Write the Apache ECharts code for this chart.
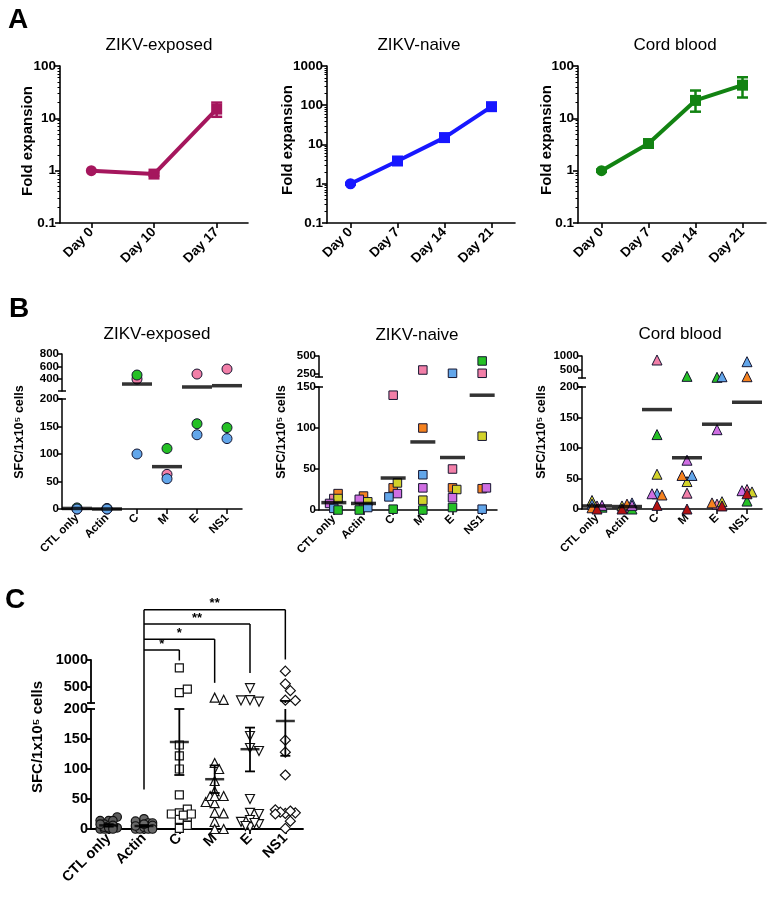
<!DOCTYPE html>
<html><head><meta charset="utf-8">
<script src="https://cdn.jsdelivr.net/npm/echarts@6/dist/echarts.min.js"></script>
<style>html,body{margin:0;padding:0;background:#fff}#c{width:775px;height:900px}</style>
</head><body><div id="c"></div>
<script>
// ================= DATA =================
// Panel A: fold expansion (log scale)
const daysExposed = ['Day 0', 'Day 10', 'Day 17'];
const daysNaive = ['Day 0', 'Day 7', 'Day 14', 'Day 21'];
const daysCord = ['Day 0', 'Day 7', 'Day 14', 'Day 21'];
const foldExposed = [1, 0.86, 15];
const foldExposedLo = [1, 0.8, 10.7];
const foldExposedHi = [1, 0.92, 20];
const foldNaive = [1, 3.8, 15, 92];
const foldNaiveLo = [0.95, 3.4, 13.5, 85];
const foldNaiveHi = [1.05, 4.2, 16.5, 99];
const foldCord = [1, 3.3, 22, 43];
const foldCordLo = [0.95, 2.9, 13.4, 25];
const foldCordHi = [1.05, 3.8, 34, 61];

// Panel B: SFC per 1x10^5 cells, per donor
const antigens = ['CTL only', 'Actin', 'C', 'M', 'E', 'NS1'];
const exposedPink = [0, 0, 394, 63, 475, 556];
const exposedGreen = [2, 1, 459, 110, 155, 148];
const exposedBlue = [0, 0, 100, 55, 135, 128];
const exposedMean = [1, 0, 313, 77, 265, 286];

const naivePink = [14, 5, 140, 300, 50, 253];
const naiveOrange = [20, 17, 27, 100, 27, 26];
const naiveYellow = [14, 10, 33, 12, 25, 90];
const naiveViolet = [8, 13, 20, 27, 15, 27];
const naiveBlue = [2, 3, 16, 43, 253, 1];
const naiveGreen = [0, 0, 1, 0, 3, 429];
const naiveMean = [9, 8, 39, 83, 64, 140];

const cordPink = [5, 3, 855, 26, 8, 32];
const cordGreen = [3, 0, 122, 260, 225, 13];
const cordYellow = [14, 5, 57, 45, 12, 28];
const cordBlue = [8, 10, 25, 55, 247, 793];
const cordOrange = [2, 8, 23, 55, 10, 247];
const cordViolet = [6, 6, 25, 80, 130, 30];
const cordRed = [0, 0, 6, 0, 5, 25];
const cordMean = [5, 4, 163, 84, 139, 175];

// Panel C: pooled mean and SEM
const pooledMean = [6, 5, 145, 83, 133, 180];
const pooledSemLo = [4, 3.5, 90, 60, 96, 122];
const pooledSemHi = [8, 6.5, 200, 106, 169, 238];

// tick labels
const logTicks100 = [0.1, 1, 10, 100];
const logTicks1000 = [0.1, 1, 10, 100, 1000];
const upperTicksExposed = [400, 600, 800];
const upperTicksNaive = [250, 500];
const upperTicksCord = [500, 1000];
const upperTicksPooled = [500, 1000];

// significance brackets (Actin vs ...)
const sigTargets = ['C', 'M', 'E', 'NS1'];
const sigLabels = ['*', '*', '**', '**'];
const sigLevel = [1187, 1388, 1669, 1937];
const sigLegEnd = [990, 575, 757, 1010];
const sigStemEnd = 66;

// ================= STYLE / LAYOUT =================
const FONT = '"Liberation Sans", Arial, Helvetica, sans-serif';
const BLACK = '#000';
const COL = {
  pink: '#f27fa8', green: '#25c025', blue: '#62a6ea', orange: '#f5821f',
  yellow: '#d2d22a', violet: '#cf6ee2', red: '#b31212', edge: '#151530'
};

const chart = echarts.init(document.getElementById('c'), null, {renderer: 'canvas'});
const grids = [], xAxes = [], yAxes = [], series = [], meta = [];

function addGrid(left, topPx, width, height, cats, showX, fs, lw) {
  const gi = grids.length;
  grids.push({left, top: topPx, width, height, containLabel: false, outerBoundsMode: 'none'});
  xAxes.push({
    type: 'category', gridIndex: gi, data: cats, boundaryGap: true, show: showX,
    axisLine: {show: true, onZero: false, lineStyle: {color: BLACK, width: lw}},
    axisTick: {show: true, alignWithLabel: true, length: 5, lineStyle: {color: BLACK, width: lw}},
    axisLabel: {show: true, rotate: 45, margin: 7, interval: 0, hideOverlap: false, color: BLACK, fontFamily: FONT, fontWeight: 'bold', fontSize: fs},
    splitLine: {show: false}
  });
  return gi;
}

function errRender(capW, lw, color, ymin, ymax) {
  return function (params, api) {
    const x = api.value(0);
    const lo = api.value(1), hi = api.value(2);
    const children = [];
    const style = {stroke: color, lineWidth: lw};
    const cl = Math.max(lo, ymin), ch = Math.min(hi, ymax);
    if (ch <= cl) return {type: 'group', children: []};
    const p1 = api.coord([x, cl]), p2 = api.coord([x, ch]);
    children.push({type: 'line', shape: {x1: p1[0], y1: p1[1], x2: p2[0], y2: p2[1]}, style});
    if (lo >= ymin) children.push({type: 'line', shape: {x1: p1[0] - capW / 2, y1: p1[1], x2: p1[0] + capW / 2, y2: p1[1]}, style});
    if (hi <= ymax) children.push({type: 'line', shape: {x1: p2[0] - capW / 2, y1: p2[1], x2: p2[0] + capW / 2, y2: p2[1]}, style});
    return {type: 'group', children};
  };
}
const numFmt = v => String(+(+v).toPrecision(4));

// ---------- Panel A ----------
function panelA(cfg) {
  const gi = addGrid(cfg.left, 66, 188, 157, cfg.cats, true, 13.5, 1.6);
  const yi = yAxes.length;
  yAxes.push({
    type: 'log', logBase: 10, gridIndex: gi, position: 'left', min: 0.1, max: cfg.max,
    axisLine: {show: true, lineStyle: {color: BLACK, width: 1.6}},
    axisTick: {show: true, length: 5, customValues: cfg.ticks, lineStyle: {color: BLACK, width: 1.6}},
    axisLabel: {show: true, customValues: cfg.ticks, showMinLabel: true, showMaxLabel: true, margin: 4, color: BLACK, fontFamily: FONT, fontWeight: 'bold', fontSize: 13.5,
      formatter: numFmt},
    splitLine: {show: false}
  });
  const minor = [];
  for (let d = 0.1; d < cfg.max * 0.99; d *= 10) for (let k = 2; k <= 9; k++) minor.push(+(d * k).toPrecision(4));
  yAxes.push({
    type: 'log', logBase: 10, gridIndex: gi, position: 'left', min: 0.1, max: cfg.max,
    axisLine: {show: false}, axisLabel: {show: false}, splitLine: {show: false},
    axisTick: {show: true, length: 2.5, customValues: minor, lineStyle: {color: BLACK, width: 1}}
  });
  series.push({
    type: 'custom', xAxisIndex: gi, yAxisIndex: yi, z: 2, animation: false,
    renderItem: errRender(11, 2.5, cfg.color, 0.1, cfg.max),
    encode: {x: 0, y: [1, 2]},
    data: cfg.vals.map((v, i) => [i, cfg.lo[i], cfg.hi[i]])
  });
  series.push({
    type: 'line', xAxisIndex: gi, yAxisIndex: yi, z: 3, animation: false,
    data: cfg.vals.map((v, i) => ({value: v, symbol: i === 0 ? 'circle' : 'rect'})),
    symbolSize: 11, lineStyle: {width: 4, color: cfg.color}, itemStyle: {color: cfg.color}
  });
}

panelA({left: 60, cats: daysExposed, max: 100, ticks: logTicks100, vals: foldExposed, lo: foldExposedLo, hi: foldExposedHi, color: '#a5165d'});
panelA({left: 327, cats: daysNaive, max: 1000, ticks: logTicks1000, vals: foldNaive, lo: foldNaiveLo, hi: foldNaiveHi, color: '#1717ff'});
panelA({left: 578, cats: daysCord, max: 100, ticks: logTicks100, vals: foldCord, lo: foldCordLo, hi: foldCordHi, color: '#128312'});

// ---------- Broken-axis dot plots (B and C) ----------
function panelDots(cfg) {
  const gLow = addGrid(cfg.left, cfg.lowTop, cfg.width, cfg.lowH, antigens, true, cfg.fs, cfg.lw);
  const yLow = yAxes.length;
  const lab = {color: BLACK, fontFamily: FONT, fontWeight: 'bold', fontSize: cfg.fs, margin: 3, formatter: numFmt,
    showMinLabel: true, showMaxLabel: true, hideOverlap: false};
  yAxes.push({
    type: 'value', gridIndex: gLow, position: 'left', min: 0, max: cfg.lowMax, interval: 50,
    axisLine: {show: true, lineStyle: {color: BLACK, width: cfg.lw}},
    axisTick: {show: true, length: 4, lineStyle: {color: BLACK, width: cfg.lw}},
    axisLabel: lab, splitLine: {show: false}
  });
  const gUp = addGrid(cfg.left, cfg.upTop, cfg.width, cfg.upH, antigens, false, cfg.fs, cfg.lw);
  const yUp = yAxes.length;
  yAxes.push({
    type: 'value', gridIndex: gUp, position: 'left', min: cfg.upMin, max: cfg.upMax,
    axisLine: {show: true, lineStyle: {color: BLACK, width: cfg.lw}},
    axisTick: {show: true, length: 4, customValues: cfg.upTicks, lineStyle: {color: BLACK, width: cfg.lw}},
    axisLabel: Object.assign({}, lab, {customValues: cfg.upTicks}), splitLine: {show: false}
  });
  const segs = [
    {g: gLow, y: yLow, test: v => v <= cfg.lowMax},
    {g: gUp, y: yUp, test: v => v > cfg.lowMax}
  ];
  cfg.groups.forEach(grp => {
    segs.forEach(seg => {
      const si = series.length;
      const data = [];
      grp.points.forEach(([c, v]) => {
        if (!seg.test(v)) return;
        data.push({value: [c, v]});
        if (cfg.spread) meta.push({panel: cfg.id, cat: c, v, s: si, d: data.length - 1, x: seg.g, y: seg.y, size: grp.size, maxOff: cfg.spread});
      });
      series.push({
        type: 'scatter', xAxisIndex: seg.g, yAxisIndex: seg.y, data, clip: false, animation: false, z: 3,
        symbol: grp.symbol, symbolSize: grp.size, symbolRotate: grp.rotate || 0,
        itemStyle: {color: grp.fill, borderColor: grp.stroke, borderWidth: grp.bw, opacity: 1}
      });
    });
  });
  segs.forEach(seg => {
    series.push({
      type: 'scatter', xAxisIndex: seg.g, yAxisIndex: seg.y, clip: false, animation: false, z: 5,
      symbol: 'rect', symbolSize: [cfg.meanW, cfg.meanH], itemStyle: {color: BLACK},
      data: cfg.mean.map((v, i) => [i, v]).filter(p => seg.test(p[1]))
    });
    if (cfg.semLo) {
      const ymin = seg.g === gLow ? 0 : cfg.upMin, ymax = seg.g === gLow ? cfg.lowMax : cfg.upMax;
      series.push({
        type: 'custom', xAxisIndex: seg.g, yAxisIndex: seg.y, z: 5, animation: false,
        renderItem: errRender(10, 1.8, BLACK, ymin, ymax), encode: {x: 0, y: [1, 2]},
        data: cfg.mean.map((v, i) => [i, cfg.semLo[i], cfg.semHi[i]])
      });
    }
  });
  return {gLow, yLow, gUp, yUp, cfg};
}

function donor(vals, color, symbol, size) {
  return {points: vals.map((v, i) => [i, v]), fill: color, stroke: COL.edge, bw: 1, symbol, size};
}

const pB1 = panelDots({
  id: 'B1', left: 62, width: 180, lowTop: 399, lowH: 110, lowMax: 200, upTop: 354, upH: 37, upMin: 200, upMax: 800,
  upTicks: upperTicksExposed, fs: 11.5, lw: 1.5, meanW: 30, meanH: 3.5, mean: exposedMean, spread: 0,
  groups: [donor(exposedPink, COL.pink, 'circle', 10), donor(exposedGreen, COL.green, 'circle', 10), donor(exposedBlue, COL.blue, 'circle', 10)]
});
const pB2 = panelDots({
  id: 'B2', left: 319, width: 178, lowTop: 387, lowH: 123, lowMax: 150, upTop: 356, upH: 21, upMin: 200, upMax: 500,
  upTicks: upperTicksNaive, fs: 11.5, lw: 1.5, meanW: 25, meanH: 3.5, mean: naiveMean, spread: 6,
  groups: [donor(naivePink, COL.pink, 'rect', 8.5), donor(naiveOrange, COL.orange, 'rect', 8.5), donor(naiveYellow, COL.yellow, 'rect', 8.5),
    donor(naiveViolet, COL.violet, 'rect', 8.5), donor(naiveBlue, COL.blue, 'rect', 8.5), donor(naiveGreen, COL.green, 'rect', 8.5)]
});
const pB3 = panelDots({
  id: 'B3', left: 582, width: 180, lowTop: 387, lowH: 122, lowMax: 200, upTop: 356, upH: 22, upMin: 200, upMax: 1000,
  upTicks: upperTicksCord, fs: 11.5, lw: 1.5, meanW: 30, meanH: 3.5, mean: cordMean, spread: 7,
  groups: [donor(cordPink, COL.pink, 'triangle', 10), donor(cordGreen, COL.green, 'triangle', 10), donor(cordYellow, COL.yellow, 'triangle', 10),
    donor(cordBlue, COL.blue, 'triangle', 10), donor(cordOrange, COL.orange, 'triangle', 10), donor(cordViolet, COL.violet, 'triangle', 10),
    donor(cordRed, COL.red, 'triangle', 10)]
});

// pooled values for panel C, built from all donors of panel B
const allDonors = [exposedPink, exposedGreen, exposedBlue, naivePink, naiveOrange, naiveYellow, naiveViolet, naiveBlue, naiveGreen,
  cordPink, cordGreen, cordYellow, cordBlue, cordOrange, cordViolet, cordRed];
const pooledShapes = [
  {symbol: 'circle', size: 8.5, fill: '#5c5c5c'}, {symbol: 'circle', size: 8.5, fill: '#6a6a6a'},
  {symbol: 'rect', size: 8, fill: '#fff'}, {symbol: 'triangle', size: 9, fill: '#fff'},
  {symbol: 'triangle', size: 9, fill: '#fff', rotate: 180}, {symbol: 'diamond', size: 10, fill: '#fff'}
];
const pC = panelDots({
  id: 'C', left: 91, width: 212, lowTop: 709, lowH: 120, lowMax: 200, upTop: 660, upH: 43, upMin: 200, upMax: 1000,
  upTicks: upperTicksPooled, fs: 14.5, lw: 1.8, meanW: 19, meanH: 2.5, mean: pooledMean, semLo: pooledSemLo, semHi: pooledSemHi, spread: 12,
  groups: antigens.map((a, j) => Object.assign({points: allDonors.map(d => [j, d[j]]), stroke: '#111', bw: 1.2}, pooledShapes[j]))
});

chart.setOption({animation: false, backgroundColor: '#fff', grid: grids, xAxis: xAxes, yAxis: yAxes, series});

// ---------- limited beeswarm spreading of overlapping dots ----------
const groupsMap = {};
meta.forEach(m => {
  m.py = chart.convertToPixel({xAxisIndex: m.x, yAxisIndex: m.y}, [m.cat, m.v])[1];
  const k = m.panel + '|' + m.cat;
  (groupsMap[k] = groupsMap[k] || []).push(m);
});
Object.values(groupsMap).forEach(list => {
  const placed = [];
  list.forEach(m => {
    const step = m.size * 0.5, minD = m.size * 0.75;
    const cands = [0];
    for (let k = 1; k * step <= m.maxOff + 0.01; k++) { cands.push(k * step, -k * step); }
    let best = 0, bestScore = -1;
    for (const o of cands) {
      const dmin = placed.reduce((acc, q) => Math.min(acc, Math.hypot(q.dx - o, q.py - m.py)), Infinity);
      if (dmin >= minD) { best = o; bestScore = Infinity; break; }
      if (dmin > bestScore) { bestScore = dmin; best = o; }
    }
    m.dx = best;
    placed.push(m);
    series[m.s].data[m.d].symbolOffset = [m.dx, 0];
  });
});
chart.setOption({series});

// ---------- annotations ----------
const els = [];
function txt(x, y, text, font, rot) {
  els.push({type: 'text', x, y, rotation: rot || 0, silent: true, z: 10,
    style: {text, fill: BLACK, font, align: 'center', verticalAlign: 'middle', textAlign: 'center', textVerticalAlign: 'middle'}});
}
function line(x1, y1, x2, y2, w) {
  els.push({type: 'line', silent: true, z: 10, shape: {x1, y1, x2, y2}, style: {stroke: BLACK, lineWidth: w || 1.5}});
}
const F = (w, s) => w + ' ' + s + 'px ' + FONT;
txt(18, 20, 'A', F('bold', 28));
txt(19, 309, 'B', F('bold', 28));
txt(15, 600, 'C', F('bold', 28));
[['ZIKV-exposed', 159, 45], ['ZIKV-naive', 419, 45], ['Cord blood', 675, 45],
 ['ZIKV-exposed', 157, 334], ['ZIKV-naive', 417, 335], ['Cord blood', 680, 334]].forEach(t => txt(t[1], t[2], t[0], F('normal', 17)));
[[28, 141], [288, 140], [547, 140]].forEach(p => txt(p[0], p[1], 'Fold expansion', F('bold', 15), Math.PI / 2));
[[20, 432], [282, 432], [542, 432]].forEach(p => txt(p[0], p[1], 'SFC/1x10\u2075 cells', F('bold', 12.5), Math.PI / 2));
txt(38, 737, 'SFC/1x10\u2075 cells', F('bold', 15), Math.PI / 2);

// axis break marks
[pB1, pB2, pB3, pC].forEach(p => {
  const x = p.cfg.left;
  const yl = chart.convertToPixel({yAxisIndex: p.yLow}, p.cfg.lowMax);
  const yu = chart.convertToPixel({yAxisIndex: p.yUp}, p.cfg.upMin);
  line(x - 4, yl, x + 4, yl, p.cfg.lw);
  line(x - 4, yu, x + 4, yu, p.cfg.lw);
});

// significance brackets in C
const pxU = (c, v) => chart.convertToPixel({xAxisIndex: pC.gUp, yAxisIndex: pC.yUp}, [c, v]);
const pxL = (c, v) => chart.convertToPixel({xAxisIndex: pC.gLow, yAxisIndex: pC.yLow}, [c, v]);
const actinIdx = antigens.indexOf('Actin');
const stemTop = pxU(actinIdx, Math.max(...sigLevel));
const stemBottom = pxL(actinIdx, sigStemEnd);
line(stemTop[0], stemTop[1], stemBottom[0], stemBottom[1], 1.5);
sigTargets.forEach((t, k) => {
  const j = antigens.indexOf(t);
  const a = pxU(actinIdx, sigLevel[k]);
  const b = pxU(j, sigLevel[k]);
  const e = pxU(j, sigLegEnd[k]);
  line(a[0], a[1], b[0], b[1], 1.5);
  line(b[0], b[1], e[0], e[1], 1.5);
  txt((a[0] + b[0]) / 2, a[1] - 6, sigLabels[k], F('bold', 13));
});
chart.setOption({graphic: {elements: els}});
</script></body></html>
